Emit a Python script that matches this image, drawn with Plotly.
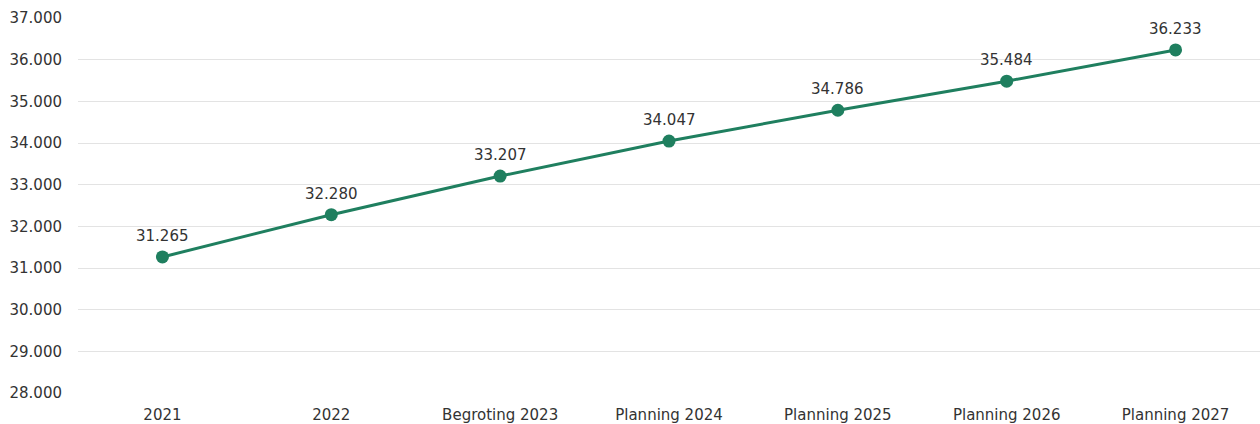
import plotly.graph_objects as go

categories = ["2021", "2022", "Begroting 2023", "Planning 2024",
              "Planning 2025", "Planning 2026", "Planning 2027"]
values = [31265, 32280, 33207, 34047, 34786, 35484, 36233]

line_color = "#1f7f5f"
text_color = "#333333"
font_family = "Verdana, DejaVu Sans, sans-serif"


def nl_number(v):
    return f"{v:,}".replace(",", ".")


fig = go.Figure(
    go.Scatter(
        x=categories,
        y=values,
        mode="lines+markers",
        line=dict(color=line_color, width=3),
        marker=dict(color=line_color, size=13),
        cliponaxis=False,
        hoverinfo="skip",
    )
)

# value labels above each point (x given as category index so that
# year-like names are not read as numbers)
for i, val in enumerate(values):
    fig.add_annotation(
        x=i, y=val, text=nl_number(val),
        showarrow=False, yshift=21,
        font=dict(family=font_family, size=15, color=text_color),
    )

fig.update_layout(
    width=1260,
    height=424,
    margin=dict(l=78, r=0, t=18, b=31),
    paper_bgcolor="white",
    plot_bgcolor="white",
    separators=",.",
    showlegend=False,
    font=dict(family=font_family, size=15, color=text_color),
)
fig.update_xaxes(
    type="category",
    range=[-0.5, len(categories) - 0.5],
    showgrid=False,
    showline=False,
    ticks="",
    ticklabelstandoff=11,
    tickfont=dict(size=15, color=text_color),
)
fig.update_yaxes(
    range=[28000, 37000],
    dtick=1000,
    tickformat=",d",
    showgrid=True,
    gridcolor="#e3e3e3",
    gridwidth=1,
    zeroline=False,
    showline=False,
    ticks="",
    ticklabelstandoff=15,
    tickfont=dict(size=15, color=text_color),
)

fig.write_html("out.html")
